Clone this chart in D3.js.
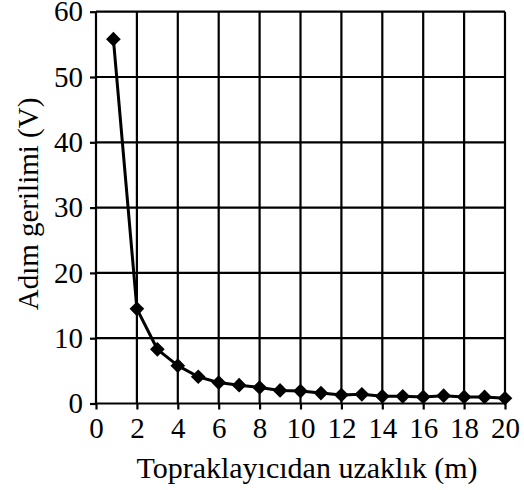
<!DOCTYPE html>
<html>
<head>
<meta charset="utf-8">
<script src="https://cdn.jsdelivr.net/npm/d3@7"></script>
<style>
  html, body { margin: 0; padding: 0; background: #fff; }
  svg { display: block; }
</style>
</head>
<body>
<svg id="chart" width="524" height="490"></svg>
<script>
// Data
const distances = [0.85, 2, 3, 4, 5, 6, 7, 8, 9, 10, 11, 12, 13, 14, 15, 16, 17, 18, 19, 20];
const stepVoltage = [55.8, 14.5, 8.3, 5.8, 4.1, 3.2, 2.8, 2.45, 2.0, 1.9, 1.6, 1.3, 1.4, 1.1, 1.1, 1.0, 1.2, 1.0, 1.0, 0.8];
const xTicks = [0, 2, 4, 6, 8, 10, 12, 14, 16, 18, 20];
const yTicks = [0, 10, 20, 30, 40, 50, 60];
const xTitle = "Topraklayıcıdan uzaklık (m)";
const yTitle = "Adım gerilimi (V)";

const FONT = "'Liberation Serif', 'Tinos', 'Nimbus Roman', 'Times New Roman'";
const tickFont = "29px";
const svg = d3.select("#chart");
const plotLeft = 96, plotRight = 505, plotTop = 11.7, plotBottom = 403.5;
const x = d3.scaleLinear().domain([0, 20]).range([plotLeft, plotRight]);
const y = d3.scaleLinear().domain([0, 60]).range([plotBottom, plotTop]);

// Grid
const grid = svg.append("g").attr("stroke", "#000").attr("stroke-width", 2.2);
grid.selectAll("line.v").data(xTicks).join("line")
  .attr("class", "v")
  .attr("x1", d => x(d)).attr("x2", d => x(d))
  .attr("y1", plotTop).attr("y2", plotBottom);
grid.selectAll("line.h").data(yTicks).join("line")
  .attr("class", "h")
  .attr("x1", plotLeft).attr("x2", plotRight)
  .attr("y1", d => y(d)).attr("y2", d => y(d));

// Axes
const xAxis = svg.append("g")
  .attr("transform", `translate(0,${plotBottom})`)
  .call(d3.axisBottom(x).tickValues(xTicks).tickSize(6).tickPadding(8).tickFormat(d3.format("d")));
const yAxis = svg.append("g")
  .attr("transform", `translate(${plotLeft},0)`)
  .call(d3.axisLeft(y).tickValues(yTicks).tickSize(6).tickPadding(7).tickFormat(d3.format("d")));
[xAxis, yAxis].forEach(g => {
  g.attr("font-family", null).attr("font-size", null);
  g.select(".domain").remove();
  g.selectAll(".tick line").attr("stroke", "#000").attr("stroke-width", 2.2);
  g.selectAll(".tick text")
    .style("font-family", FONT)
    .style("font-size", tickFont)
    .style("fill", "#000");
});

// Line
const line = d3.line().x((d, i) => x(distances[i])).y(d => y(d));
svg.append("path")
  .datum(stepVoltage)
  .attr("fill", "none")
  .attr("stroke", "#000")
  .attr("stroke-width", 3)
  .attr("stroke-linejoin", "round")
  .attr("d", line);

// Markers
const sym = d3.symbol().type(d3.symbolSquare).size(108);
svg.append("g").selectAll("path").data(stepVoltage).join("path")
  .attr("d", sym)
  .attr("fill", "#000")
  .attr("transform", (d, i) => `translate(${x(distances[i])},${y(d)}) rotate(45)`);

// Titles
svg.append("text")
  .attr("x", 307)
  .attr("y", 478)
  .attr("text-anchor", "middle")
  .style("font-family", FONT)
  .style("font-size", "30px")
  .style("fill", "#000")
  .text(xTitle);
svg.append("text")
  .attr("transform", `translate(38,204) rotate(-90)`)
  .attr("text-anchor", "middle")
  .style("font-family", FONT)
  .style("font-size", "29px")
  .style("fill", "#000")
  .text(yTitle);
</script>
</body>
</html>
